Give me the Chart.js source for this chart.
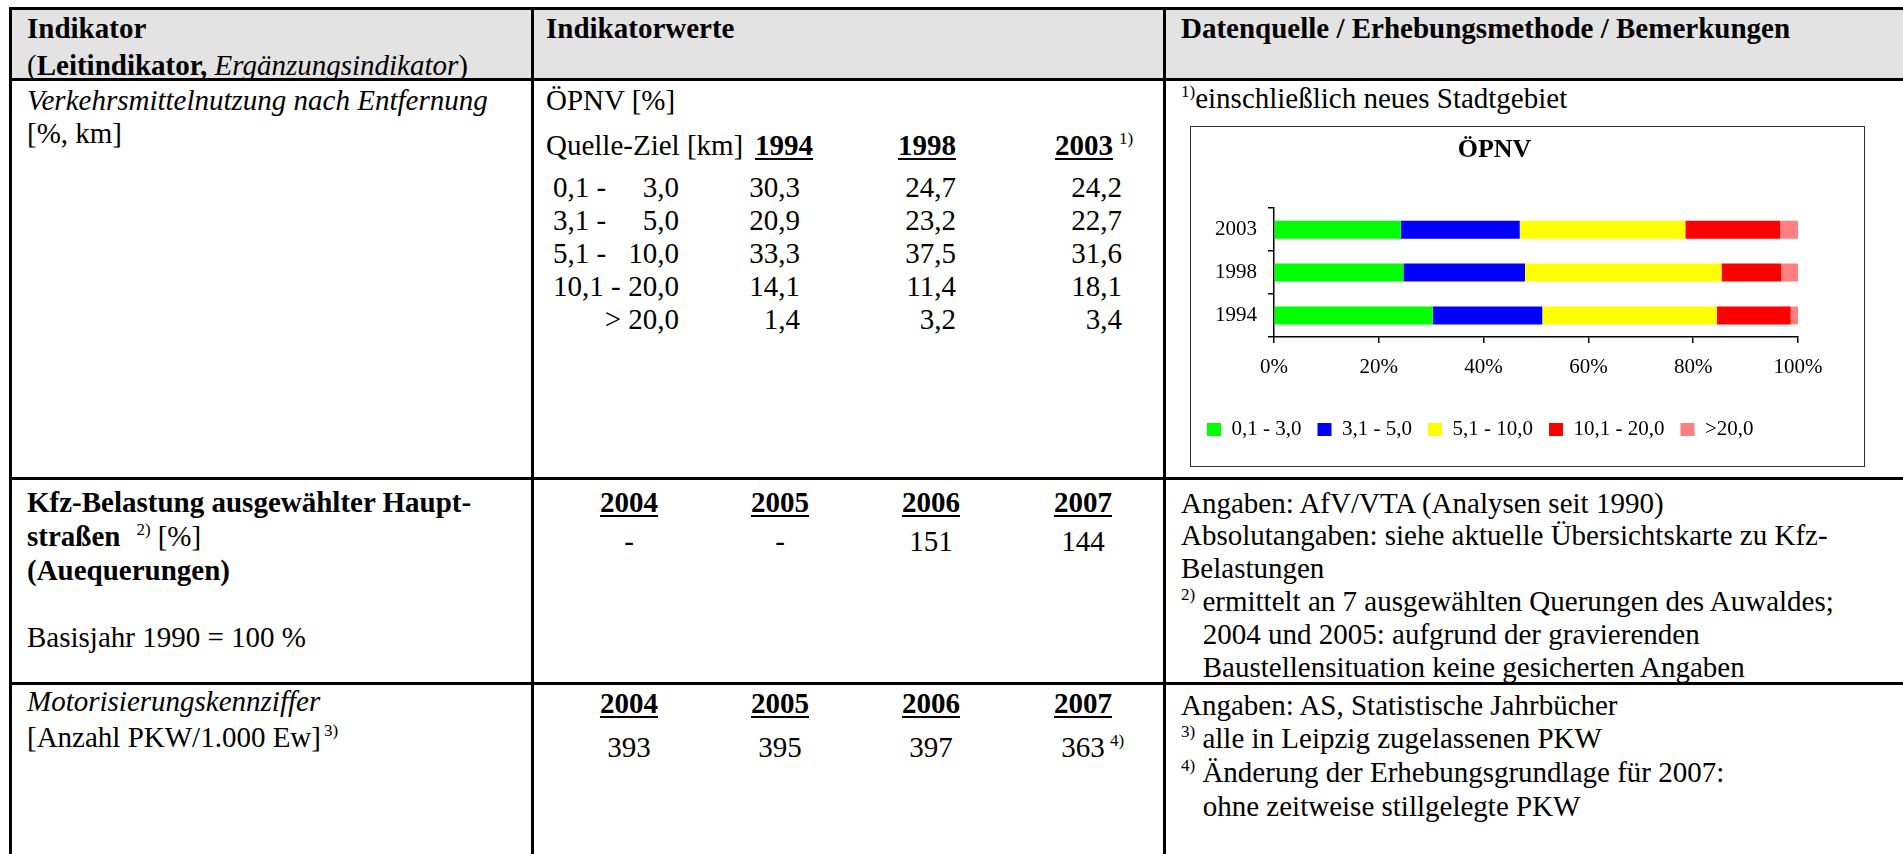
<!DOCTYPE html>
<html lang="de">
<head>
<meta charset="UTF-8">
<title>Verkehrsmittelnutzung nach Entfernung - ÖPNV</title>
<script src="https://cdn.jsdelivr.net/npm/chart.js@4"></script>
<style>
  body { margin: 0; width: 1903px; height: 854px; overflow: hidden; background: #fff;
         font-family: 'Liberation Serif', 'Times New Roman', serif; font-size: 29px; color: #000; }
  /* baseline = top + 23 */
  .t { position: absolute; line-height: 26px; white-space: pre; }
  .b { font-weight: bold; }
  .i { font-style: italic; }
  .u { text-decoration: underline; text-decoration-thickness: 2px; text-underline-offset: 3px; }
  .sup { font-size: 17px; position: relative; top: -11px; font-weight: normal; }
  .r { text-align: right; }
  .c { text-align: center; }
  .ln { position: absolute; background: #000; }
  #head { position: absolute; left: 10px; top: 9px; width: 1893px; height: 70px; background: #e3e3e3; }
  #box { position: absolute; left: 1190px; top: 126px; width: 675px; height: 341px;
         border: 1px solid #333; box-sizing: border-box; background: #fff; }
  #wrap { position: absolute; left: 0; top: 0; width: 673px; height: 339px; }
</style>
</head>
<body>
<div id="head"></div>
<!-- tabellenlinien -->
<div class="ln" style="left:9px; top:7px; width:1894px; height:3px"></div>
<div class="ln" style="left:9px; top:78px; width:1894px; height:3px"></div>
<div class="ln" style="left:9px; top:477px; width:1894px; height:3px"></div>
<div class="ln" style="left:9px; top:682px; width:1894px; height:3px"></div>
<div class="ln" style="left:9px; top:7px; width:3px; height:847px"></div>
<div class="ln" style="left:531px; top:7px; width:3px; height:847px"></div>
<div class="ln" style="left:1163px; top:7px; width:3px; height:847px"></div>

<!-- kopfzeile -->
<div class="t b" style="left:27px; top:15px">Indikator</div>
<div class="t" style="left:27px; top:52px">(<b>Leitindikator,</b> <i>Ergänzungsindikator</i>)</div>
<div class="t b" style="left:546px; top:15px">Indikatorwerte</div>
<div class="t b" style="left:1181px; top:15px">Datenquelle / Erhebungsmethode / Bemerkungen</div>

<!-- zeile 1 -->
<div class="t i" style="left:27px; top:87px">Verkehrsmittelnutzung nach Entfernung</div>
<div class="t" style="left:27px; top:120px">[%, km]</div>
<div class="t" style="left:546px; top:87px">ÖPNV [%]</div>
<div class="t" style="left:546px; top:132px">Quelle-Ziel [km]</div>
<div id="yearHead"></div>
<div id="shareRows"></div>
<div class="t" style="left:1181px; top:85px"><span class="sup">1)</span>einschließlich neues Stadtgebiet</div>
<div id="box"><div id="wrap"><canvas id="opnv"></canvas></div></div>

<!-- zeile 2 -->
<div class="t b" style="left:27px; top:489px">Kfz-Belastung ausgewählter Haupt-</div>
<div class="t" style="left:27px; top:523px"><b>straßen</b><span class="sup" style="margin-left:16px">2)</span><span style="margin-left:7px">[%]</span></div>
<div class="t b" style="left:27px; top:557px">(Auequerungen)</div>
<div class="t" style="left:27px; top:624px">Basisjahr 1990 = 100 %</div>
<div class="t" style="left:1181px; top:490px">Angaben: AfV/VTA (Analysen seit 1990)</div>
<div class="t" style="left:1181px; top:522px">Absolutangaben: siehe aktuelle Übersichtskarte zu Kfz-</div>
<div class="t" style="left:1181px; top:555px">Belastungen</div>
<div class="t" style="left:1181px; top:588px"><span class="sup">2)</span> ermittelt an 7 ausgewählten Querungen des Auwaldes;</div>
<div class="t" style="left:1181px; top:621px">   2004 und 2005: aufgrund der gravierenden</div>
<div class="t" style="left:1181px; top:654px">   Baustellensituation keine gesicherten Angaben</div>

<!-- zeile 3 -->
<div class="t i" style="left:27px; top:688px">Motorisierungskennziffer</div>
<div class="t" style="left:27px; top:724px">[Anzahl PKW/1.000 Ew]<span class="sup" style="margin-left:3px">3)</span></div>
<div class="t" style="left:1181px; top:692px">Angaben: AS, Statistische Jahrbücher</div>
<div class="t" style="left:1181px; top:725px"><span class="sup">3)</span> alle in Leipzig zugelassenen PKW</div>
<div class="t" style="left:1181px; top:759px"><span class="sup">4)</span> Änderung der Erhebungsgrundlage für 2007:</div>
<div class="t" style="left:1181px; top:793px">   ohne zeitweise stillgelegte PKW</div>
<div id="valueRows"></div>

<script>
// ÖPNV-Anteile nach Entfernung (Quelle-Ziel), in %
const years = ['1994', '1998', '2003'];
const bands = ['0,1 - 3,0', '3,1 - 5,0', '5,1 - 10,0', '10,1 - 20,0', '>20,0'];
const share01to03 = [30.3, 24.7, 24.2];
const share03to05 = [20.9, 23.2, 22.7];
const share05to10 = [33.3, 37.5, 31.6];
const share10to20 = [14.1, 11.4, 18.1];
const shareOver20 = [1.4, 3.2, 3.4];
const xTickValues = [0, 20, 40, 60, 80, 100];

// Kfz-Belastung und Motorisierung
const laterYears = ['2004', '2005', '2006', '2007'];
const kfzIndex = [null, null, 151, 144];
const pkwPer1000 = [393, 395, 397, 363];

const shares = [share01to03, share03to05, share05to10, share10to20, shareOver20];
const fmt = v => v.toFixed(1).replace('.', ',');

function put(parent, cls, left, top, html, width) {
    const d = document.createElement('div');
    d.className = 't ' + cls;
    d.style.left = left + 'px';
    d.style.top = top + 'px';
    if (width) d.style.width = width + 'px';
    d.innerHTML = html;
    parent.appendChild(d);
}

// kopf der ÖPNV-tabelle
const yearHead = document.getElementById('yearHead');
const yearLeft = [755, 898, 1055];
years.forEach((y, i) => {
    const note = i === 2 ? '<span class="sup" style="margin-left:6px">1)</span>' : '';
    put(yearHead, 'b', yearLeft[i], 132, '<span class="u">' + y + '</span>' + note);
});

// werte-zeilen
const shareRows = document.getElementById('shareRows');
const valueRight = [800, 956, 1122];
bands.forEach((band, r) => {
    const top = 174 + r * 33;
    const parts = band.split(' - ');
    if (parts.length === 2) {
        put(shareRows, '', 553, top, parts[0] + ' -');
        put(shareRows, 'r', 579, top, parts[1], 100);
    } else {
        put(shareRows, 'r', 579, top, band.replace('>', '> '), 100);
    }
    shares[r].forEach((v, i) => put(shareRows, 'r', valueRight[i] - 100, top, fmt(v), 100));
});

// zeilen 2 und 3
const valueRows = document.getElementById('valueRows');
const yearCenter = [629, 780, 931, 1083];
laterYears.forEach((y, i) => {
    put(valueRows, 'b c', yearCenter[i] - 60, 489, '<span class="u">' + y + '</span>', 120);
    put(valueRows, 'c', yearCenter[i] - 60, 528, kfzIndex[i] === null ? '-' : String(kfzIndex[i]), 120);
    put(valueRows, 'b c', yearCenter[i] - 60, 690, '<span class="u">' + y + '</span>', 120);
    put(valueRows, 'c', yearCenter[i] - 60, 734, String(pkwPer1000[i]), 120);
});
// fussnote 4) an 2007
put(valueRows, '', 1110, 734, '<span class="sup">4)</span>');

// diagramm
const fontFamily = "'Liberation Serif', 'Times New Roman', serif";
const bandColors = ['#00ff00', '#0000ff', '#ffff00', '#ff0000', '#ff8080'];

new Chart(document.getElementById('opnv'), {
    type: 'bar',
    data: {
        labels: years,
        datasets: bands.map((b, i) => ({
            label: b,
            data: shares[i],
            backgroundColor: bandColors[i],
            borderWidth: 0,
            categoryPercentage: 1,
            barPercentage: 0.42
        }))
    },
    options: {
        indexAxis: 'y',
        responsive: true,
        maintainAspectRatio: false,
        animation: false,
        layout: { padding: { left: 0, right: 66, top: 0, bottom: 16 } },
        plugins: {
            title: {
                display: true,
                text: 'ÖPNV',
                color: '#000',
                font: { family: fontFamily, size: 26, weight: 'bold' },
                padding: { top: 8, bottom: 42 }
            },
            legend: {
                position: 'bottom',
                align: 'start',
                labels: { boxWidth: 14, boxHeight: 13, padding: 16, color: '#000',
                          font: { family: fontFamily, size: 21 } }
            },
            tooltip: { enabled: false }
        },
        scales: {
            x: {
                stacked: true,
                min: 0,
                max: 100,
                afterBuildTicks: s => { s.ticks = xTickValues.map(v => ({ value: v })); },
                ticks: { callback: v => v + '%', color: '#000', padding: 12,
                         font: { family: fontFamily, size: 21 } },
                grid: { drawOnChartArea: false, tickLength: 6, color: '#000', lineWidth: 1.5 },
                border: { color: '#000', width: 1.5 },
                afterFit: s => { s.height = 66; }
            },
            y: {
                stacked: true,
                reverse: true,
                ticks: { color: '#000', padding: 11, font: { family: fontFamily, size: 21 } },
                grid: { drawOnChartArea: false, tickLength: 6, color: '#000', lineWidth: 1.5 },
                border: { color: '#000', width: 1.5 },
                afterFit: s => { s.width = 83; }
            }
        }
    }
});
</script>
</body>
</html>
